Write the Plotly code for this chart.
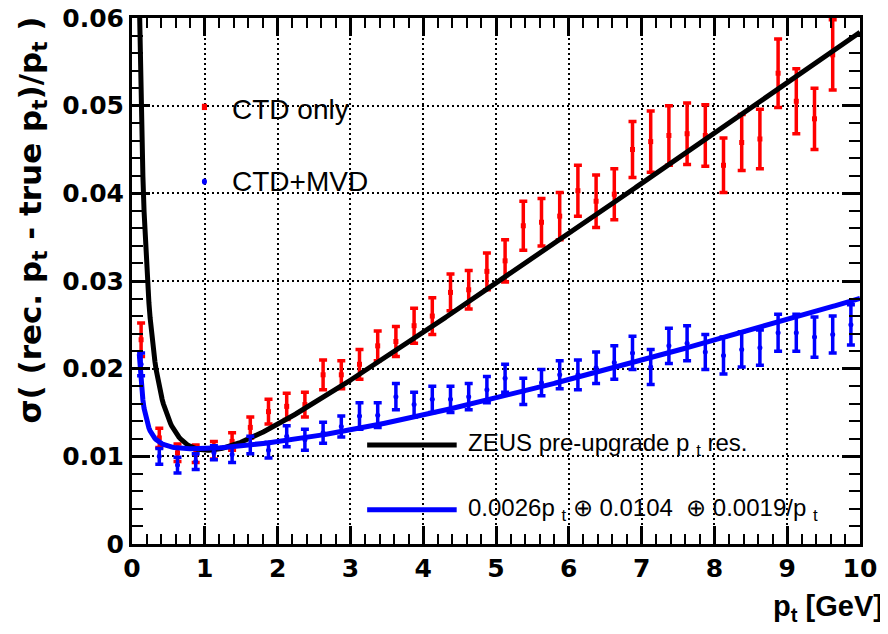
import numpy as np
import plotly.graph_objects as go

# ---------------- data ----------------
pt = [0.125, 0.375, 0.625, 0.875, 1.125, 1.375, 1.625, 1.875, 2.125, 2.375,
      2.625, 2.875, 3.125, 3.375, 3.625, 3.875, 4.125, 4.375, 4.625, 4.875,
      5.125, 5.375, 5.625, 5.875, 6.125, 6.375, 6.625, 6.875, 7.125, 7.375,
      7.625, 7.875, 8.125, 8.375, 8.625, 8.875, 9.125, 9.375, 9.625, 9.875]

ctd_only = [0.0233, 0.0121, 0.0104, 0.0103, 0.0107, 0.0117, 0.0133, 0.0151, 0.0157, 0.0159,
            0.0193, 0.0193, 0.0205, 0.0226, 0.0231, 0.0249, 0.0260, 0.0287, 0.0290, 0.0311,
            0.0323, 0.0363, 0.0367, 0.0374, 0.0403, 0.0391, 0.0399, 0.0450, 0.0459, 0.0466,
            0.0468, 0.0466, 0.0432, 0.0458, 0.0462, 0.0537, 0.0505, 0.0485, 0.0558, None]
ctd_only_err = [0.0019, 0.0011, 0.0010, 0.0010, 0.0010, 0.0010, 0.0012, 0.0014, 0.0015, 0.0014,
                0.0017, 0.0016, 0.0017, 0.0017, 0.0017, 0.0020, 0.0021, 0.0021, 0.0022, 0.0021,
                0.0024, 0.0028, 0.0027, 0.0027, 0.0029, 0.0030, 0.0029, 0.0032, 0.0035, 0.0034,
                0.0035, 0.0035, 0.0031, 0.0032, 0.0034, 0.0039, 0.0037, 0.0035, 0.0040, None]

ctd_mvd = [0.0205, 0.0100, 0.0090, 0.0094, 0.0104, 0.0102, 0.0113, 0.0107, 0.0123, 0.0119,
           0.0127, 0.0134, 0.0146, 0.0147, 0.0168, 0.0159, 0.0165, 0.0165, 0.0168, 0.0176,
           0.0189, 0.0174, 0.0184, 0.0193, 0.0193, 0.0201, 0.0207, 0.0218, 0.0202, 0.0226,
           0.0229, 0.0219, 0.0215, 0.0222, 0.0224, 0.0241, 0.0241, 0.0236, 0.0239, 0.0250]
ctd_mvd_err = [0.0013, 0.0009, 0.0009, 0.0009, 0.0008, 0.0009, 0.0010, 0.0009, 0.0012, 0.0012,
               0.0012, 0.0012, 0.0015, 0.0014, 0.0015, 0.0014, 0.0015, 0.0015, 0.0015, 0.0015,
               0.0016, 0.0015, 0.0015, 0.0016, 0.0017, 0.0018, 0.0019, 0.0019, 0.0020, 0.0020,
               0.0020, 0.0020, 0.0021, 0.0020, 0.0020, 0.0021, 0.0021, 0.0023, 0.0021, 0.0023]

# resolution functions: a*pt (+) b (+) c/pt
zeus_params = [0.0058, 0.0065, 0.0062]
mvd_params = [0.0026, 0.0104, 0.0019]
curve_range = [0.1, 10.0]

x_range = [0, 10]
y_range = [0, 0.06]
x_ticks = [0, 1, 2, 3, 4, 5, 6, 7, 8, 9, 10]
y_ticks = [0, 0.01, 0.02, 0.03, 0.04, 0.05, 0.06]
y_tick_text = ["0", "0.01", "0.02", "0.03", "0.04", "0.05", "0.06"]

legend_ctd = "CTD only"
legend_mvd = "CTD+MVD"
legend_zeus = "ZEUS pre-upgrade p <sub>t</sub> res."
legend_fit = "0.0026p <sub>t</sub> \u2295 0.0104  \u2295 0.0019/p <sub>t</sub>"

RED = "#ff0000"
BLUE = "#0000ff"


def res(p, params):
    a, b, c = params
    return np.sqrt((a * p) ** 2 + b ** 2 + (c / p) ** 2)


xc = np.linspace(curve_range[0], curve_range[1], 600)

fig = go.Figure()

fig.add_trace(go.Scatter(
    x=pt, y=ctd_only, mode="markers",
    marker=dict(symbol="square", size=5, color=RED),
    error_y=dict(type="data", array=ctd_only_err, color=RED, thickness=3.5, width=4),
    showlegend=False))

fig.add_trace(go.Scatter(
    x=xc, y=res(xc, zeus_params), mode="lines",
    line=dict(color="black", width=5), showlegend=False))

fig.add_trace(go.Scatter(
    x=pt, y=ctd_mvd, mode="markers",
    marker=dict(symbol="circle", size=5, color=BLUE),
    error_y=dict(type="data", array=ctd_mvd_err, color=BLUE, thickness=3.5, width=4),
    showlegend=False))

fig.add_trace(go.Scatter(
    x=xc, y=res(xc, mvd_params), mode="lines",
    line=dict(color=BLUE, width=5), showlegend=False))

# empty trace that carries the mirrored (top/right) tick axes
fig.add_trace(go.Scatter(x=[None], y=[None], xaxis="x2", yaxis="y2",
                         mode="markers", showlegend=False, hoverinfo="skip"))

# legend-like markers and lines (paper coordinates)
shapes = [
    dict(type="rect", xref="paper", yref="paper", x0=0.096, x1=0.103, y0=0.825, y1=0.837,
         fillcolor=RED, line=dict(width=0)),
    dict(type="circle", xref="paper", yref="paper", x0=0.096, x1=0.103, y0=0.683, y1=0.695,
         fillcolor=BLUE, line=dict(width=0)),
    dict(type="line", xref="paper", yref="paper", x0=0.323, x1=0.446, y0=0.188, y1=0.188,
         line=dict(color="black", width=5)),
    dict(type="line", xref="paper", yref="paper", x0=0.323, x1=0.446, y0=0.065, y1=0.065,
         line=dict(color=BLUE, width=5)),
]

txt_font = dict(family="Liberation Sans, Arial, sans-serif", size=28, color="black")
small_font = dict(family="Liberation Sans, Arial, sans-serif", size=24, color="black")
title_font = dict(family="DejaVu Sans, sans-serif", size=31, color="black")
xtitle_font = dict(family="Liberation Sans, Arial, sans-serif", size=29, color="black")
annotations = [
    dict(text=legend_ctd, xref="paper", yref="paper", x=0.134, y=0.826,
         xanchor="left", yanchor="middle", showarrow=False, font=txt_font),
    dict(text=legend_mvd, xref="paper", yref="paper", x=0.134, y=0.690,
         xanchor="left", yanchor="middle", showarrow=False, font=txt_font),
    dict(text=legend_zeus, xref="paper", yref="paper", x=0.459, y=0.190,
         xanchor="left", yanchor="middle", showarrow=False, font=small_font),
    dict(text=legend_fit, xref="paper", yref="paper", x=0.459, y=0.066,
         xanchor="left", yanchor="middle", showarrow=False, font=small_font),
    # axis titles
    dict(text="<b>\u03c3( (rec. p<sub>t</sub> - true p<sub>t</sub>)/p<sub>t</sub> )</b>",
         xref="paper", yref="paper", x=-0.137, y=1.006, textangle=-90,
         xanchor="center", yanchor="top", showarrow=False, font=title_font),
    dict(text="<b>p<sub>t</sub> [GeV]</b>", xref="paper", yref="paper", x=1.034, y=-0.122,
         xanchor="right", yanchor="middle", showarrow=False, font=xtitle_font),
]

tick_font = dict(family="DejaVu Sans, sans-serif", size=25, color="black", weight="bold")

common_axis = dict(
    ticks="inside", ticklen=18, tickwidth=2.5, tickcolor="black",
    showline=True, linecolor="black", linewidth=3, mirror=True,
    showgrid=True, gridcolor="black", gridwidth=1.5, griddash="2px,3px",
    zeroline=False, tickfont=tick_font, automargin=False, tickmode="array",
    ticklabeloverflow="allow")

mirror_axis = dict(
    ticks="inside", ticklen=18, tickwidth=2.5, tickcolor="black",
    showline=False, showgrid=False, zeroline=False, showticklabels=False,
    automargin=False, tickmode="array")

x_minor = dict(ticks="inside", dtick=0.2, tick0=0, ticklen=10, tickwidth=2,
               tickcolor="black", showgrid=False)
y_minor = dict(ticks="inside", dtick=0.002, tick0=0, ticklen=11, tickwidth=2,
               tickcolor="black", showgrid=False)

# the page body adds an 8px margin, so the figure is 16px smaller than the window
fig.update_layout(
    width=880, height=626,
    margin=dict(l=124, r=28, t=10, b=90),
    paper_bgcolor="white", plot_bgcolor="white",
    xaxis=dict(range=x_range, tickvals=x_ticks, ticktext=[str(v) for v in x_ticks],
               minor=x_minor, **common_axis),
    yaxis=dict(range=y_range, tickvals=y_ticks, ticktext=y_tick_text,
               minor=y_minor, **common_axis),
    xaxis2=dict(range=x_range, tickvals=x_ticks, overlaying="x", side="top",
                anchor="y2", minor=x_minor, **mirror_axis),
    yaxis2=dict(range=y_range, tickvals=y_ticks, overlaying="y", side="right",
                anchor="x2", minor=y_minor, **mirror_axis),
    shapes=shapes, annotations=annotations,
    showlegend=False)

fig.write_html("out.html")
